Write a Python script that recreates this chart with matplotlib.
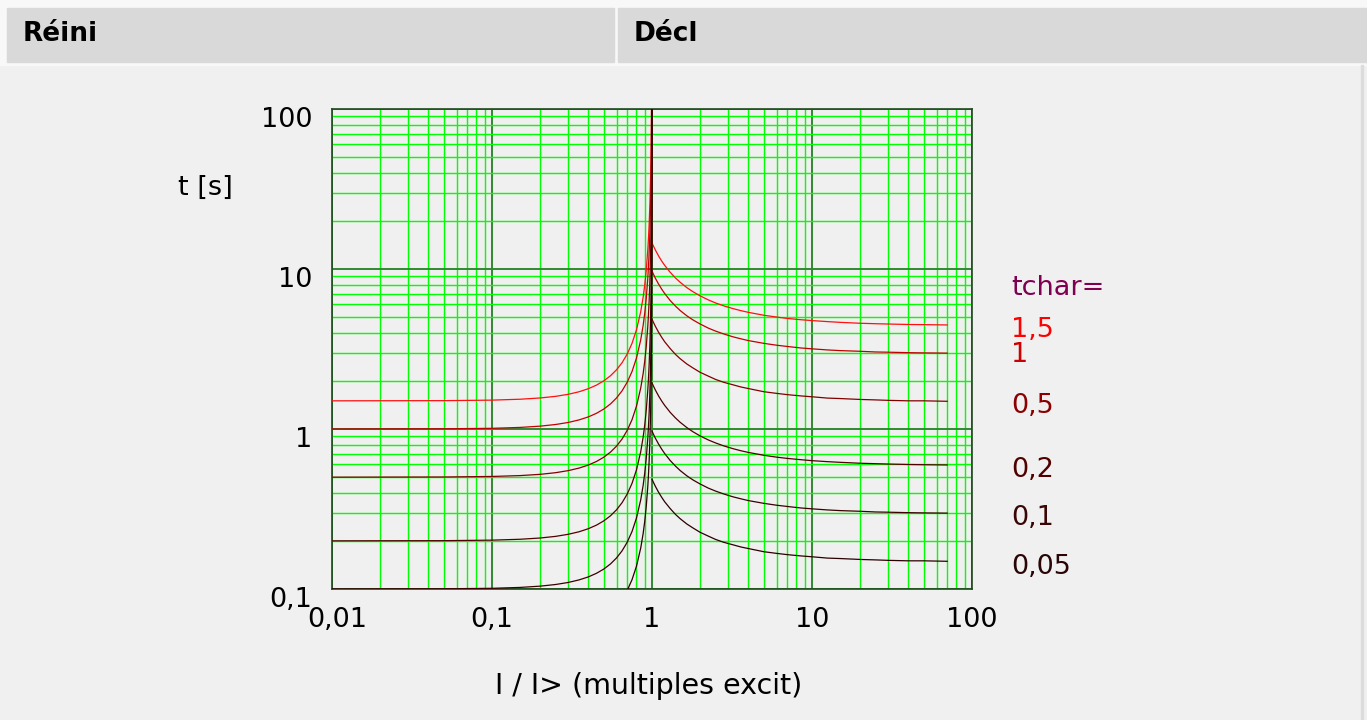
import matplotlib.pyplot as plt
from matplotlib.patches import Rectangle
from matplotlib.transforms import ScaledTranslation
from matplotlib.ticker import LogLocator, NullFormatter

# tchar settings and their colours (top to bottom)
tchar_labels = ['1,5', '1', '0,5', '0,2', '0,1', '0,05']
curve_colors = ['#ff1010', '#c00000', '#800000', '#500000', '#3a0000', '#2a0000']
label_colors = ['#ff0000', '#cc0000', '#8b0000', '#500000', '#3a0505', '#2a0505']
label_y = [330, 355, 406, 470, 518, 567]   # pixel rows of the right-hand labels

# reset side (I < 1)
reset_I = [0.01, 0.05, 0.1, 0.15, 0.2, 0.25, 0.3, 0.35, 0.4, 0.45, 0.5, 0.55, 0.6, 0.65,
           0.7, 0.75, 0.8, 0.85, 0.88, 0.9, 0.92, 0.94, 0.95, 0.96, 0.97, 0.98, 0.985,
           0.99, 0.995, 0.998, 1.0]
reset_t = [
    [1.500, 1.504, 1.515, 1.535, 1.563, 1.600, 1.648, 1.709, 1.786, 1.881, 2.000, 2.151, 2.344, 2.597,
     2.941, 3.429, 4.167, 5.405, 6.649, 7.895, 9.766, 12.89, 15.38, 19.13, 25.38, 37.88, 50.38,
     75.38, 150.4, 375.4, 1000],
    [1.000, 1.003, 1.010, 1.023, 1.042, 1.067, 1.099, 1.140, 1.190, 1.254, 1.333, 1.434, 1.563, 1.732,
     1.961, 2.286, 2.778, 3.604, 4.433, 5.263, 6.510, 8.591, 10.26, 12.76, 16.92, 25.25, 33.59,
     50.25, 100.3, 250.3, 1000],
    [0.500, 0.5013, 0.5051, 0.5115, 0.5208, 0.5333, 0.5495, 0.5698, 0.5952, 0.6270, 0.6667, 0.7168,
     0.7813, 0.8658, 0.9804, 1.143, 1.389, 1.802, 2.216, 2.632, 3.255, 4.296, 5.128, 6.378, 8.460,
     12.63, 16.79, 25.13, 50.13, 125.2, 1000],
    [0.200, 0.2005, 0.2020, 0.2046, 0.2083, 0.2133, 0.2198, 0.2279, 0.2381, 0.2508, 0.2667, 0.2867,
     0.3125, 0.3463, 0.3922, 0.4571, 0.5556, 0.7207, 0.8865, 1.053, 1.302, 1.718, 2.051, 2.551, 3.384,
     5.051, 6.717, 10.05, 20.05, 50.06, 1000],
    [0.100, 0.1003, 0.1010, 0.1023, 0.1042, 0.1067, 0.1099, 0.1140, 0.1190, 0.1254, 0.1333, 0.1434,
     0.1563, 0.1732, 0.1961, 0.2286, 0.2778, 0.3604, 0.4433, 0.5263, 0.6510, 0.8591, 1.026, 1.276,
     1.692, 2.525, 3.359, 5.025, 10.03, 25.03, 1000],
    [0.050, 0.0501, 0.0505, 0.0512, 0.0521, 0.0533, 0.0549, 0.0570, 0.0595, 0.0627, 0.0667, 0.0717,
     0.0781, 0.0866, 0.0980, 0.1143, 0.1389, 0.1802, 0.2216, 0.2632, 0.3255, 0.4296, 0.5128, 0.6378,
     0.8460, 1.263, 1.679, 2.513, 5.013, 12.52, 1000],
]

# trip side (I >= 1)
trip_I = [1.0, 1.02, 1.05, 1.1, 1.15, 1.2, 1.3, 1.4, 1.5, 1.65, 1.8, 2, 2.25, 2.5, 2.8, 3.2,
          3.6, 4, 5, 6, 7, 8.5, 10, 12.5, 15, 20, 25, 30, 40, 50, 70]
trip_t = [
    [14.56, 13.94, 13.13, 12.05, 11.21, 10.54, 9.53, 8.80, 8.26, 7.65, 7.22, 6.79, 6.41, 6.13, 5.89,
     5.66, 5.49, 5.36, 5.14, 5.01, 4.91, 4.82, 4.76, 4.69, 4.64, 4.58, 4.55, 4.53, 4.50, 4.49, 4.47],
    [9.71, 9.29, 8.75, 8.04, 7.48, 7.03, 6.35, 5.87, 5.50, 5.10, 4.81, 4.53, 4.27, 4.09, 3.93,
     3.77, 3.66, 3.57, 3.43, 3.34, 3.28, 3.21, 3.17, 3.12, 3.09, 3.06, 3.03, 3.02, 3.00, 2.99, 2.98],
    [4.85, 4.65, 4.38, 4.02, 3.74, 3.51, 3.18, 2.93, 2.75, 2.55, 2.41, 2.26, 2.14, 2.04, 1.96,
     1.89, 1.83, 1.79, 1.71, 1.67, 1.64, 1.61, 1.59, 1.56, 1.55, 1.53, 1.52, 1.51, 1.50, 1.50, 1.49],
    [1.942, 1.858, 1.751, 1.607, 1.495, 1.405, 1.270, 1.174, 1.101, 1.021, 0.962, 0.905, 0.854,
     0.818, 0.785, 0.754, 0.731, 0.714, 0.685, 0.667, 0.655, 0.643, 0.634, 0.625, 0.619, 0.611,
     0.607, 0.604, 0.600, 0.598, 0.596],
    [0.971, 0.929, 0.875, 0.804, 0.748, 0.703, 0.635, 0.587, 0.550, 0.510, 0.481, 0.453, 0.427,
     0.409, 0.393, 0.377, 0.366, 0.357, 0.343, 0.334, 0.328, 0.321, 0.317, 0.312, 0.309, 0.306,
     0.303, 0.302, 0.300, 0.299, 0.298],
    [0.485, 0.465, 0.438, 0.402, 0.374, 0.351, 0.318, 0.293, 0.275, 0.255, 0.241, 0.226, 0.214,
     0.204, 0.196, 0.189, 0.183, 0.179, 0.171, 0.167, 0.164, 0.161, 0.159, 0.156, 0.155, 0.153,
     0.152, 0.151, 0.150, 0.150, 0.149],
]

x_ticks = [0.01, 0.1, 1, 10, 100]
x_ticklabels = ['0,01', '0,1', '1', '10', '100']
y_ticks = [0.1, 1, 10, 100]
y_ticklabels = ['0,1', '1', '10', '100']

W, H = 1367, 720
fig = plt.figure(figsize=(W / 100, H / 100), dpi=100, facecolor='#f0f0f0')

def px_rect(x0, y0, x1, y1, color):
    fig.patches.append(Rectangle((x0 / W, 1 - y1 / H), (x1 - x0) / W, (y1 - y0) / H,
                                 transform=fig.transFigure, color=color, zorder=0))

# header bar
px_rect(0, 0, W, 65, '#f8f8f8')
px_rect(7, 8, 614, 62, '#d9d9d9')
px_rect(618, 8, W, 62, '#d9d9d9')
px_rect(1361, 65, 1363, H, '#dcdcdc')
fig.text(23 / W, 1 - 41 / H, 'Réini', fontsize=19, fontweight='bold', va='baseline', ha='left')
fig.text(634 / W, 1 - 41 / H, 'Décl', fontsize=19, fontweight='bold', va='baseline', ha='left')

ax = fig.add_axes([332 / W, 1 - 589 / H, 640 / W, 480 / H])
ax.set_facecolor('#f0f0f0')
ax.set_xscale('log')
ax.set_yscale('log')
ax.set_xlim(0.01, 100)
ax.set_ylim(0.1, 100)

for i in range(len(tchar_labels)):
    ax.plot(reset_I, reset_t[i], color=curve_colors[i], lw=0.9, zorder=3)
    ax.plot(trip_I, trip_t[i], color=curve_colors[i], lw=0.9, zorder=3)

ax.xaxis.set_minor_locator(LogLocator(base=10, subs=range(2, 10)))
ax.yaxis.set_minor_locator(LogLocator(base=10, subs=range(2, 10)))
ax.xaxis.set_minor_formatter(NullFormatter())
ax.yaxis.set_minor_formatter(NullFormatter())
ax.grid(which='minor', color='#00ff00', lw=1, zorder=1)
ax.grid(which='major', color='#2f8a2f', lw=1.4, zorder=2)
ax.set_axisbelow(True)

ax.set_xticks(x_ticks, x_ticklabels)
ax.set_yticks(y_ticks, y_ticklabels)
ax.tick_params(which='both', length=0)
ax.tick_params(axis='x', labelsize=19.5, pad=13)
ax.tick_params(axis='y', labelsize=19.5, pad=14)
for lbl in ax.get_yticklabels():
    lbl.set_transform(lbl.get_transform() + ScaledTranslation(0, -0.08, fig.dpi_scale_trans))
# the first x label sits a little right of the axis edge
ax.get_xticklabels()[0].set_transform(ax.get_xticklabels()[0].get_transform()
                                      + ScaledTranslation(0.05, 0, fig.dpi_scale_trans))
for s in ax.spines.values():
    s.set_color('#1f4a1f')
    s.set_linewidth(1.2)

fig.text(205 / W, 1 - 188 / H, 't [s]', fontsize=19.5, ha='center', va='center')
fig.text(649 / W, 1 - 686 / H, 'I / I> (multiples excit)', fontsize=20.5, ha='center', va='center')

fig.text(1011 / W, 1 - 288 / H, 'tchar=', fontsize=19.5, color='#800050', ha='left', va='center')
for lab, col, yy in zip(tchar_labels, label_colors, label_y):
    fig.text(1011 / W, 1 - yy / H, lab, fontsize=19.5, color=col, ha='left', va='center')

fig.savefig('out.png', dpi=100, facecolor=fig.get_facecolor())
